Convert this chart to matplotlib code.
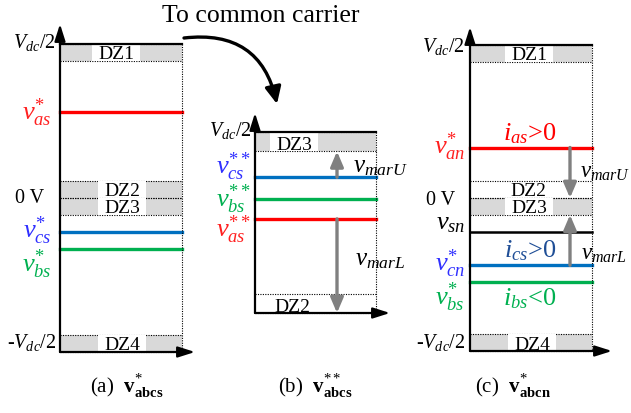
import matplotlib
matplotlib.use("Agg")
import matplotlib.pyplot as plt
from matplotlib.patches import Rectangle, FancyArrowPatch

plt.rcParams['font.family'] = ['Liberation Serif', 'DejaVu Serif']
plt.rcParams['mathtext.fontset'] = 'custom'
plt.rcParams['mathtext.rm'] = 'Liberation Serif'
plt.rcParams['mathtext.it'] = 'Liberation Serif:italic'
plt.rcParams['mathtext.bf'] = 'Liberation Serif:bold'

# phase order: a, c, b
phases = ["as", "cs", "bs"]
phases_n = ["an", "cn", "bs"]
# (a) references, per unit of Vdc/2
v_abcs = [0.56, -0.22, -0.33]
# (b) references on the common carrier, 0..1
v_abcs2 = [0.52, 0.75, 0.63]
# (c) references after offset, per unit of Vdc/2
v_abcn = [0.33, -0.44, -0.55]
v_sn = -0.22
dead_zone = 0.11
dead_zone_b = 0.107
current_sign = [">0", ">0", "<0"]

line_colors = ['#ff0000', '#0070c0', '#00b050']
label_colors = ['#ff2020', '#3030ff', '#00b050']
i_colors = ['#ff0000', '#1f4e96', '#00b050']
GRAY = '#d9d9d9'
ARROW_GRAY = '#808080'

fig = plt.figure(figsize=(6.31, 4.13), dpi=100)
ax = fig.add_axes([0, 0, 1, 1])
ax.set_xlim(0, 631)
ax.set_ylim(413, 0)
ax.axis('off')


def ya(v):
    return 198 - 154 * v


def yb(v):
    return 313 - 181 * v


def yc(v):
    return 198 - 153 * v


def arrow(x0, y0, x1, y1, color='k', lw=1.6, style='-|>,head_length=0.85,head_width=0.27', z=5):
    ax.annotate('', xy=(x1, y1), xytext=(x0, y0),
                arrowprops=dict(arrowstyle=style, color=color, lw=lw, mutation_scale=12,
                                shrinkA=0, shrinkB=0), zorder=z)


def marg_arrow(x, y0, y1):
    arrow(x, y0, x, y1, color=ARROW_GRAY, lw=2.4,
          style='-|>,head_length=0.75,head_width=0.32', z=3.5)


def frame(x0, x1, xa, ytop, ybot, yarr):
    ax.plot([x0, x1], [ytop, ytop], color='k', lw=1.6, zorder=4)
    ax.plot([x1, x1], [ytop, ybot], color='k', lw=0.8, ls=(0, (1, 1.2)), zorder=4)
    arrow(x0, ybot, x0, yarr)
    arrow(x0, ybot, xa, ybot)


def band(x0, x1, yhi, ylo, fill, name=None, xc=None):
    if fill:
        ax.add_patch(Rectangle((x0, yhi), x1 - x0, ylo - yhi, fc=GRAY, ec='none', zorder=1))
    ax.plot([x0, x1], [yhi, yhi], color='k', lw=0.8, ls=(0, (1, 1.2)), zorder=2)
    ax.plot([x0, x1], [ylo, ylo], color='k', lw=0.8, ls=(0, (1, 1.2)), zorder=2)
    if name:
        if fill:
            ax.add_patch(Rectangle((xc - 24, yhi), 48, ylo - yhi, fc='white', ec='none', zorder=2))
        ax.text(xc, ylo - 1.5, name, ha='center', va='baseline', fontsize=14, zorder=3)


# ---------- (a) ----------
x0, x1 = 60, 182
frame(x0, x1, 195, ya(1), ya(-1), 24)
band(x0, x1, ya(1), ya(1 - dead_zone), True, 'DZ1', 116)
band(x0, x1, ya(dead_zone), ya(0), True, 'DZ2', 122)
band(x0, x1, ya(0), ya(-dead_zone), True, 'DZ3', 122)
band(x0, x1, ya(-1 + dead_zone), ya(-1), True, 'DZ4', 122)
offs_a = [8, 6, 23]
for v, ph, lc, tc, off in zip(v_abcs, phases, line_colors, label_colors, offs_a):
    ax.plot([x0, x1], [ya(v), ya(v)], color=lc, lw=2.4, zorder=3)
    ax.text(x0 - 8, ya(v) + off, r'$v_{%s}^{*}$' % ph, color=tc, fontsize=19,
            ha='right', va='baseline')
ax.text(x0 - 4, ya(1) + 4, r'$V_{dc}/2$', fontsize=14.5, ha='right', va='baseline')
ax.text(x0 - 4, ya(-1) - 4, r'-$V_{dc}/2$', fontsize=14.5, ha='right', va='baseline')
ax.text(x0 - 16, ya(0) + 5, '0 V', fontsize=14.5, ha='right', va='baseline')

# ---------- (b) ----------
x0, x1 = 255, 376
frame(x0, x1, 390, yb(1), yb(0), 113)
band(x0, x1, yb(1), yb(1 - dead_zone_b), True, 'DZ3', 294)
band(x0, x1, yb(dead_zone_b), yb(0), False, 'DZ2', 292)
offs_b = [18, -3, 8]
for v, ph, lc, tc, off in zip(v_abcs2, phases, line_colors, label_colors, offs_b):
    ax.plot([x0, x1], [yb(v), yb(v)], color=lc, lw=2.4, zorder=3)
    ax.text(x0 - 4, yb(v) + off, r'$v_{%s}^{**}$' % ph, color=tc, fontsize=19,
            ha='right', va='baseline')
ax.text(x0 - 3, yb(1) + 4, r'$V_{dc}/2$', fontsize=14.5, ha='right', va='baseline')
marg_arrow(337, yb(v_abcs2[1]), yb(1 - dead_zone_b))
marg_arrow(337, yb(v_abcs2[0]), yb(0))
ax.text(353, 172, r'$v_{marU}$', fontsize=18, va='baseline')
ax.text(355, 265, r'$v_{marL}$', fontsize=18, va='baseline')

# ---------- (c) ----------
x0, x1 = 470, 592
frame(x0, x1, 612, yc(1), yc(-1), 27)
band(x0, x1, yc(1), yc(1 - dead_zone), True, 'DZ1', 529)
band(x0, x1, yc(dead_zone), yc(0), False, 'DZ2', 528)
band(x0, x1, yc(0), yc(-dead_zone), True, 'DZ3', 529)
band(x0, x1, yc(-1 + dead_zone), yc(-1), True, 'DZ4', 532)
ax.plot([x0, x1], [yc(v_sn), yc(v_sn)], color='k', lw=1.8, zorder=3)
ax.text(x0 - 5, yc(v_sn) - 2, r'$v_{sn}$', fontsize=19, ha='right', va='baseline')
offs_c = [6, 6, 23]
offs_i = [-7, -8, 23]
for v, ph, lc, tc, ic, sg, off, oi in zip(v_abcn, phases_n, line_colors, label_colors,
                                          i_colors, current_sign, offs_c, offs_i):
    ax.plot([x0, x1], [yc(v), yc(v)], color=lc, lw=2.4, zorder=3)
    ax.text(x0 - 5, yc(v) + off, r'$v_{%s}^{*}$' % ph, color=tc, fontsize=19,
            ha='right', va='baseline')
    ax.text(530, yc(v) + oi, r'$i_{%s}$%s' % (ph[0] + 's', sg), color=ic, fontsize=19,
            ha='center', va='baseline')
ax.text(x0 - 5, yc(1) + 7, r'$V_{dc}/2$', fontsize=14.5, ha='right', va='baseline')
ax.text(x0 - 5, yc(-1) - 3, r'-$V_{dc}/2$', fontsize=14.5, ha='right', va='baseline')
ax.text(x0 - 15, yc(0) + 7, '0 V', fontsize=14.5, ha='right', va='baseline')
marg_arrow(570, yc(v_abcn[0]), yc(0))
marg_arrow(570, yc(v_abcn[1]), yc(-dead_zone))
ax.text(580, 178, r'$v_{marU}$', fontsize=16.5, va='baseline')
ax.text(581, 260, r'$v_{marL}$', fontsize=16.5, va='baseline')

# ---------- title arrow and captions ----------
ax.text(162, 22, 'To common carrier', fontsize=18.5, va='baseline')
curve = FancyArrowPatch((184, 38), (277, 104), connectionstyle='arc3,rad=-0.45',
                        arrowstyle='-|>,head_length=0.85,head_width=0.4',
                        mutation_scale=12, lw=2.4, color='k', shrinkA=0, shrinkB=0)
ax.add_patch(curve)

ax.text(90, 393, r'(a)  $\mathbf{v}_{\mathbf{abcs}}^{*}$', fontsize=15, va='baseline')
ax.text(278, 393, r'(b)  $\mathbf{v}_{\mathbf{abcs}}^{**}$', fontsize=15, va='baseline')
ax.text(475, 393, r'(c)  $\mathbf{v}_{\mathbf{abcn}}^{*}$', fontsize=15, va='baseline')

fig.savefig('out.png', dpi=100)
